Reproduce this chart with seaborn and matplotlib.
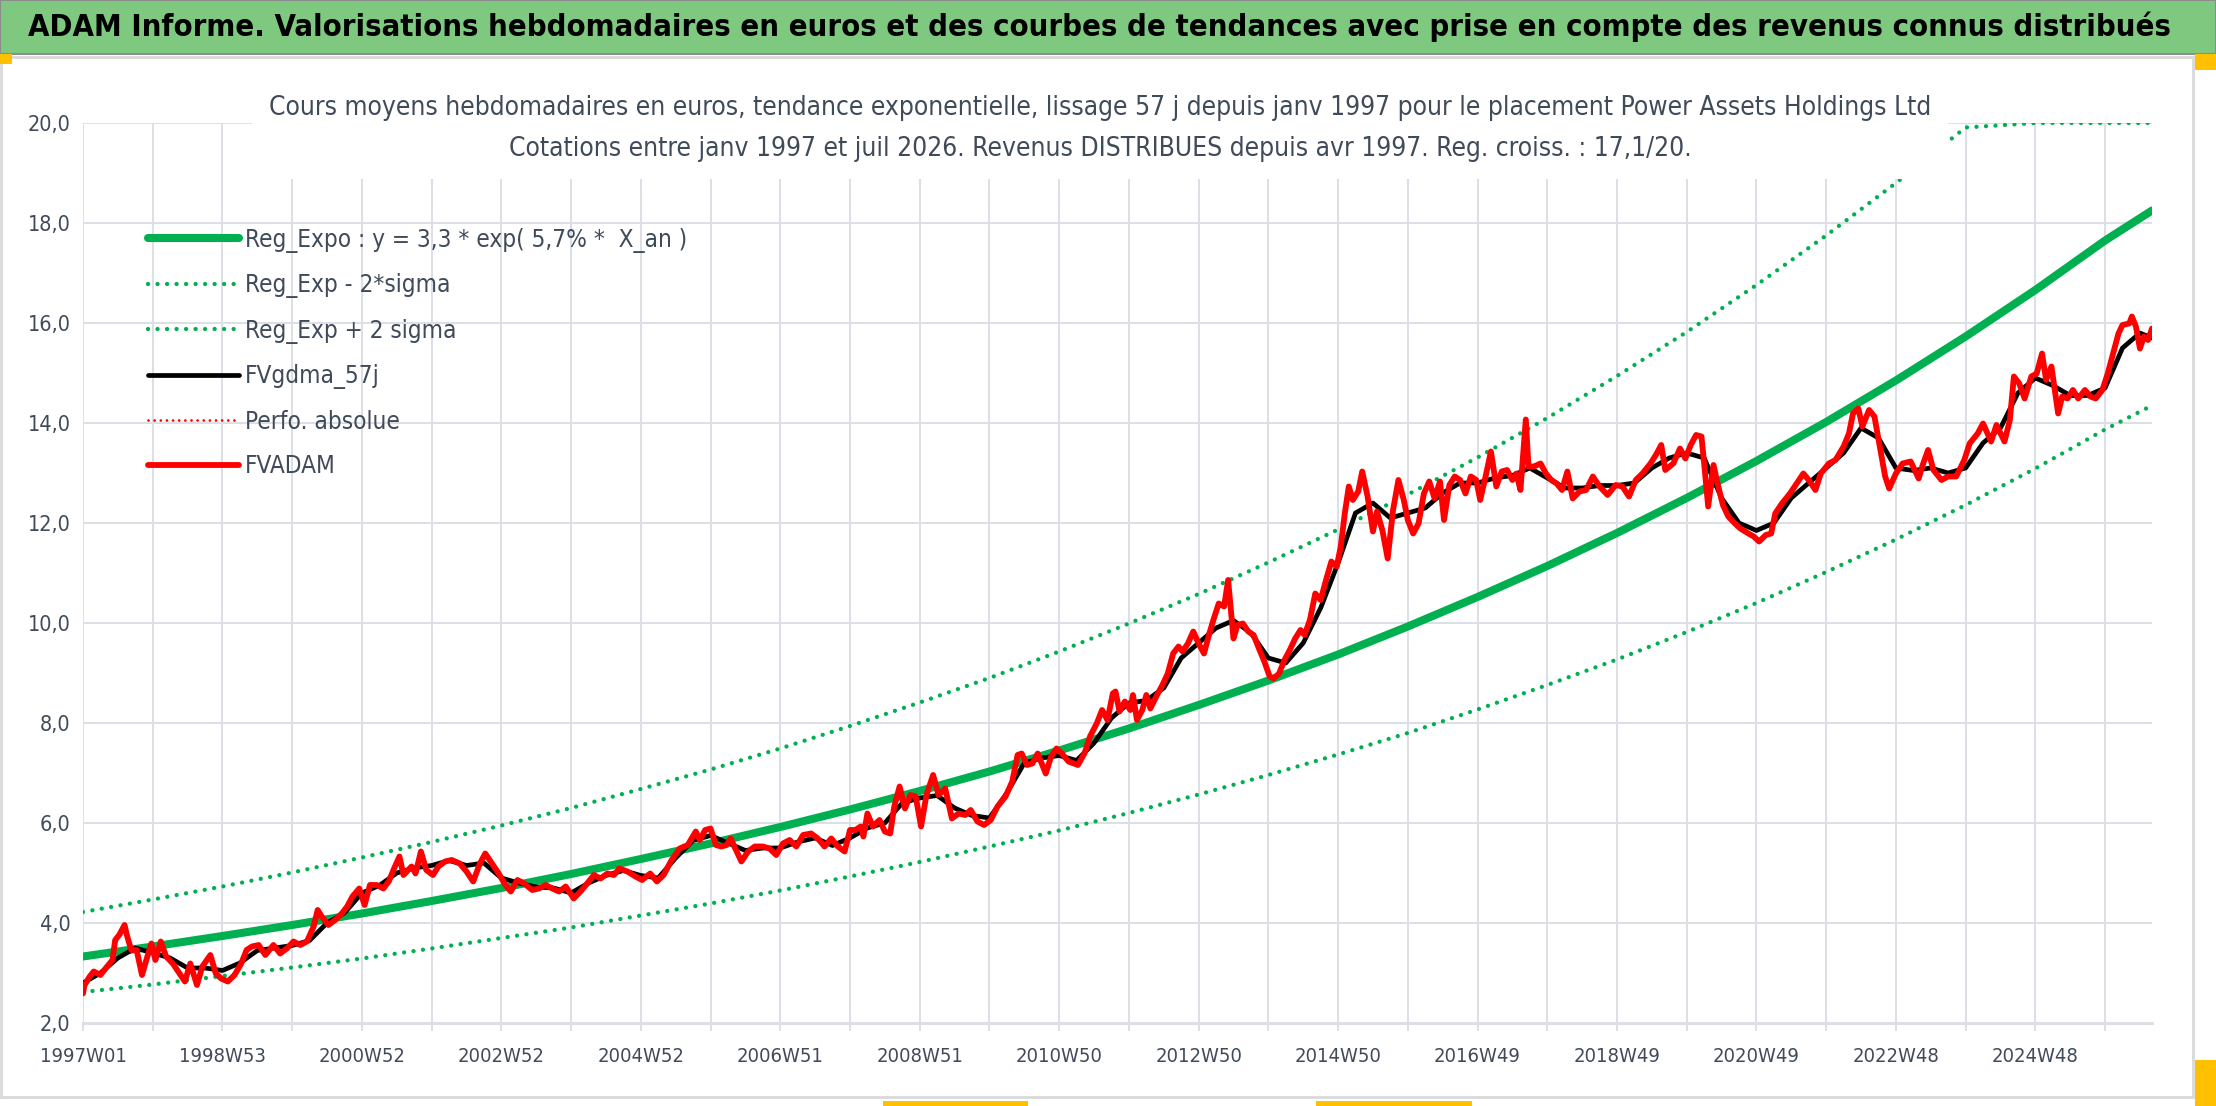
import matplotlib
matplotlib.use("Agg")
import matplotlib.pyplot as plt
import seaborn as sns
from matplotlib.patches import Rectangle

# ---- data ----
# x = week index since 1997W01 (category axis, one category per week)
tick_weeks = [0, 104, 208, 312, 416, 520, 624, 728, 832, 936, 1040, 1144, 1248, 1352, 1456]
tick_labels = ["1997W01", "1998W53", "2000W52", "2002W52", "2004W52", "2006W51", "2008W51",
               "2010W50", "2012W50", "2014W50", "2016W49", "2018W49", "2020W49", "2022W48", "2024W48"]
y_ticks = [2, 4, 6, 8, 10, 12, 14, 16, 18, 20]

# regression curves, one point per year (52 weeks) + last week
band_weeks = [0, 52, 104, 156, 208, 260, 312, 364, 416, 468, 520, 572, 624, 676, 728, 780,
              832, 884, 936, 988, 1040, 1092, 1144, 1196, 1248, 1300, 1352, 1404, 1456, 1508, 1543]
trend_vals = [3.33, 3.53, 3.74, 3.96, 4.19, 4.44, 4.70, 4.98, 5.28, 5.59, 5.92, 6.27, 6.64, 7.03,
              7.45, 7.89, 8.36, 8.85, 9.37, 9.93, 10.52, 11.14, 11.80, 12.50, 13.24, 14.02,
              14.85, 15.73, 16.66, 17.65, 18.25]
lower_vals = [2.62, 2.77, 2.94, 3.11, 3.29, 3.49, 3.70, 3.91, 4.15, 4.39, 4.65, 4.93, 5.22, 5.53,
              5.85, 6.20, 6.57, 6.96, 7.37, 7.80, 8.27, 8.76, 9.27, 9.82, 10.40, 11.02, 11.67,
              12.36, 13.09, 13.87, 14.35]
upper_vals = [4.22, 4.47, 4.73, 5.01, 5.31, 5.62, 5.95, 6.30, 6.68, 7.07, 7.49, 7.94, 8.41, 8.90,
              9.43, 9.99, 10.58, 11.21, 11.87, 12.57, 13.31, 14.10, 14.94, 15.82, 16.76, 17.75,
              18.80, 19.91, 20.0, 20.0, 20.0]

# FVADAM (weekly price incl. distributed income)
adam_weeks = [0, 1, 5, 8, 13, 18, 22, 24, 27, 31, 33, 36, 40, 44, 48, 51, 54, 58, 62, 67, 72, 76,
              80, 85, 89, 95, 99, 103, 108, 113, 118, 122, 126, 131, 136, 142, 147, 152, 157, 162,
              167, 172, 175, 178, 183, 188, 193, 197, 201, 206, 210, 214, 219, 224, 228, 232, 236,
              239, 245, 248, 252, 256, 261, 265, 270, 275, 281, 286, 291, 296, 300, 305, 310, 315,
              319, 324, 329, 335, 340, 345, 350, 355, 360, 366, 371, 376, 381, 386, 391, 396, 400,
              406, 412, 417, 423, 428, 433, 439, 445, 451, 457, 460, 464, 468, 472, 476, 480, 483,
              487, 491, 496, 501, 507, 512, 517, 522, 527, 532, 537, 543, 548, 553, 558, 563, 568,
              572, 576, 580, 582, 585, 589, 594, 598, 602, 605, 609, 613, 617, 621, 625, 629, 634,
              638, 643, 648, 653, 658, 662, 667, 672, 677, 682, 688, 693, 697, 700, 704, 708, 712,
              718, 722, 726, 730, 735, 742, 747, 751, 756, 760, 764, 768, 770, 773, 777, 781, 783,
              786, 790, 793, 796, 801, 805, 809, 813, 817, 820, 824, 828, 832, 836, 840, 843, 847,
              851, 854, 858, 861, 865, 869, 873, 877, 881, 885, 888, 892, 896, 900, 904, 908, 911,
              915, 919, 923, 927, 931, 935, 938, 941, 944, 947, 951, 954, 958, 962, 965, 969, 973,
              977, 981, 985, 988, 992, 996, 1000, 1004, 1008, 1012, 1015, 1019, 1023, 1027, 1031,
              1035, 1039, 1042, 1046, 1050, 1054, 1058, 1062, 1066, 1069, 1072, 1076, 1078, 1082,
              1087, 1091, 1095, 1099, 1103, 1107, 1111, 1116, 1121, 1126, 1131, 1137, 1143, 1148,
              1153, 1158, 1163, 1169, 1173, 1177, 1180, 1186, 1191, 1195, 1199, 1203, 1207, 1209,
              1212, 1216, 1219, 1223, 1227, 1232, 1236, 1242, 1246, 1250, 1255, 1259, 1262, 1267,
              1273, 1278, 1283, 1287, 1292, 1296, 1302, 1307, 1313, 1317, 1320, 1324, 1327, 1332,
              1336, 1340, 1344, 1347, 1352, 1357, 1363, 1369, 1372, 1376, 1380, 1386, 1391, 1397,
              1403, 1407, 1413, 1417, 1423, 1427, 1433, 1437, 1440, 1444, 1448, 1453, 1457, 1461,
              1464, 1468, 1473, 1476, 1480, 1484, 1488, 1493, 1497, 1501, 1506, 1510, 1514, 1518,
              1521, 1526, 1528, 1531, 1534, 1537, 1540, 1543]
adam_vals = [2.59, 2.75, 2.93, 3.03, 2.96, 3.13, 3.26, 3.66, 3.76, 3.96, 3.73, 3.46, 3.46, 2.96,
             3.33, 3.59, 3.26, 3.63, 3.33, 3.19, 2.99, 2.83, 3.19, 2.76, 3.13, 3.36, 2.99, 2.89,
             2.83, 2.96, 3.19, 3.46, 3.53, 3.56, 3.36, 3.56, 3.39, 3.49, 3.63, 3.56, 3.63, 3.93,
             4.26, 4.13, 3.96, 4.06, 4.19, 4.33, 4.53, 4.69, 4.36, 4.76, 4.76, 4.69, 4.83, 5.09,
             5.33, 4.96, 5.13, 4.99, 5.43, 5.06, 4.96, 5.13, 5.23, 5.26, 5.19, 5.03, 4.83, 5.19,
             5.39, 5.19, 4.99, 4.76, 4.63, 4.86, 4.79, 4.66, 4.69, 4.76, 4.69, 4.63, 4.73, 4.49,
             4.63, 4.79, 4.96, 4.89, 4.99, 4.96, 5.09, 5.03, 4.93, 4.86, 4.99, 4.83, 4.96, 5.26,
             5.49, 5.56, 5.83, 5.66, 5.86, 5.89, 5.56, 5.53, 5.56, 5.69, 5.46, 5.23, 5.43, 5.53,
             5.53, 5.49, 5.36, 5.59, 5.66, 5.53, 5.76, 5.79, 5.69, 5.53, 5.69, 5.53, 5.43, 5.86,
             5.86, 5.93, 5.73, 6.19, 5.93, 6.06, 5.83, 5.79, 6.33, 6.73, 6.29, 6.56, 6.53, 5.93,
             6.56, 6.96, 6.56, 6.69, 6.09, 6.19, 6.16, 6.26, 6.03, 5.96, 6.06, 6.33, 6.53, 6.83,
             7.36, 7.39, 7.16, 7.19, 7.39, 6.99, 7.33, 7.49, 7.39, 7.23, 7.16, 7.40, 7.73, 7.99,
             8.26, 8.06, 8.59, 8.63, 8.23, 8.43, 8.26, 8.56, 8.06, 8.26, 8.56, 8.29, 8.56, 8.76,
             8.99, 9.39, 9.53, 9.43, 9.59, 9.83, 9.59, 9.39, 9.79, 10.06, 10.39, 10.33, 10.86,
             9.69, 9.96, 9.99, 9.83, 9.76, 9.49, 9.23, 8.93, 8.89, 8.99, 9.26, 9.46, 9.69, 9.86,
             9.76, 10.06, 10.59, 10.46, 10.86, 11.23, 11.13, 11.53, 12.19, 12.73, 12.46, 12.63,
             13.03, 12.53, 11.83, 12.23, 11.86, 11.29, 12.26, 12.86, 12.46, 12.06, 11.79, 11.99,
             12.59, 12.83, 12.49, 12.83, 12.06, 12.76, 12.93, 12.86, 12.59, 12.93, 12.86, 12.46,
             12.93, 13.43, 12.73, 13.03, 13.06, 12.86, 12.99, 12.66, 14.07, 13.13, 13.13, 13.19,
             12.99, 12.86, 12.79, 12.66, 13.03, 12.49, 12.63, 12.66, 12.93, 12.73, 12.56, 12.76,
             12.73, 12.53, 12.86, 12.99, 13.19, 13.36, 13.56, 13.06, 13.19, 13.49, 13.29, 13.56,
             13.76, 13.73, 13.19, 12.33, 13.16, 12.79, 12.36, 12.13, 11.99, 11.89, 11.79, 11.73,
             11.63, 11.76, 11.79, 12.19, 12.39, 12.59, 12.79, 12.99, 12.86, 12.66, 12.99, 13.19,
             13.26, 13.53, 13.79, 14.19, 14.29, 13.93, 14.26, 14.13, 13.53, 12.93, 12.69, 12.99,
             13.19, 13.23, 12.89, 13.16, 13.46, 13.06, 12.86, 12.93, 12.93, 13.26, 13.59, 13.79,
             13.99, 13.63, 13.96, 13.63, 14.06, 14.93, 14.79, 14.49, 14.93, 14.99, 15.39, 14.86,
             15.13, 14.19, 14.53, 14.49, 14.66, 14.49, 14.66, 14.53, 14.49, 14.66, 14.99, 15.39,
             15.79, 15.96, 15.99, 16.13, 15.93, 15.49, 15.73, 15.66, 15.89]

# FVgdma_57j (smoothed)
gdma_weeks = [0, 13, 26, 39, 52, 65, 78, 91, 104, 117, 130, 143, 156, 169, 182, 195, 208, 221,
              234, 247, 260, 273, 286, 299, 312, 325, 338, 351, 364, 377, 390, 403, 416, 429,
              442, 455, 468, 481, 494, 507, 520, 533, 546, 559, 572, 585, 598, 611, 624, 637,
              650, 663, 676, 689, 702, 715, 728, 741, 754, 767, 780, 793, 806, 819, 832, 845,
              858, 871, 884, 897, 910, 923, 936, 949, 962, 975, 988, 1001, 1014, 1027, 1040,
              1053, 1066, 1079, 1092, 1105, 1118, 1131, 1144, 1157, 1170, 1183, 1196, 1209, 1222,
              1235, 1248, 1261, 1274, 1287, 1300, 1313, 1326, 1339, 1352, 1365, 1378, 1391, 1404,
              1417, 1430, 1443, 1456, 1469, 1482, 1495, 1508, 1521, 1534, 1543]
gdma_vals = [2.80, 3.00, 3.30, 3.50, 3.40, 3.30, 3.10, 3.10, 3.05, 3.20, 3.45, 3.50, 3.55, 3.65,
             4.00, 4.20, 4.60, 4.75, 5.00, 5.10, 5.15, 5.25, 5.15, 5.20, 4.90, 4.80, 4.72, 4.70,
             4.60, 4.80, 4.95, 5.05, 4.95, 4.90, 5.30, 5.65, 5.75, 5.60, 5.45, 5.50, 5.50, 5.62,
             5.70, 5.55, 5.70, 5.90, 6.00, 6.40, 6.50, 6.55, 6.30, 6.15, 6.10, 6.60, 7.20, 7.30,
             7.35, 7.25, 7.60, 8.10, 8.40, 8.45, 8.70, 9.30, 9.60, 9.90, 10.05, 9.80, 9.30, 9.20,
             9.60, 10.30, 11.20, 12.20, 12.40, 12.10, 12.20, 12.30, 12.60, 12.80, 12.80, 12.90,
             12.95, 13.10, 12.90, 12.70, 12.70, 12.75, 12.75, 12.80, 13.10, 13.30, 13.40, 13.30,
             12.50, 12.00, 11.85, 12.00, 12.50, 12.80, 13.10, 13.40, 13.90, 13.70, 13.10, 13.05,
             13.10, 13.00, 13.10, 13.60, 13.90, 14.60, 14.90, 14.75, 14.55, 14.55, 14.70, 15.50,
             15.80, 15.70]

series_labels = ["Reg_Expo : y = 3,3 * exp( 5,7% *  X_an )", "Reg_Exp - 2*sigma",
                 "Reg_Exp + 2 sigma", "FVgdma_57j", "Perfo. absolue", "FVADAM"]

title = ("ADAM Informe. Valorisations hebdomadaires en euros et des courbes de tendances "
         "avec prise en compte des revenus connus distribués")
subtitle = ("Cours moyens hebdomadaires en euros, tendance exponentielle, lissage 57 j depuis "
            "janv 1997 pour le placement Power Assets Holdings Ltd\n"
            "Cotations entre janv 1997 et juil 2026. Revenus DISTRIBUES depuis avr 1997. "
            "Reg. croiss. : 17,1/20.")

# ---- figure ----
W, H = 2216, 1106
GREEN = "#00B050"
GRID = "#DCDFE6"
TXT = "#404B5A"
DOT = (0, (0.01, 2.2))

sns.set_theme(style="white")
plt.rcParams["font.family"] = ["DejaVu Sans"]
plt.rcParams["font.stretch"] = "condensed"

fig = plt.figure(figsize=(W / 100, H / 100), dpi=100)


def fx(px):
    return px / W


def fy(py):
    return 1 - py / H


def fit_width(txt, width_px):
    # shrink/grow a text so that it spans the given pixel width
    fig.canvas.draw()
    w = txt.get_window_extent().width
    txt.set_fontsize(txt.get_fontsize() * width_px / w)


# chart area frame, title band and the little selection handles
fig.patches.append(Rectangle((fx(1), fy(1097)), fx(2192), 1040 / H, transform=fig.transFigure,
                             fc="none", ec="#D9D9D9", lw=2, zorder=-1))
fig.patches.append(Rectangle((0, fy(54)), 1, 54 / H, transform=fig.transFigure,
                             fc="#7EC87F", ec="#8C8C8C", lw=1.5, zorder=1))
for (x0, y0, w, h) in [(0, 54, 12, 10), (2195, 54, 21, 16), (2195, 1060, 21, 46),
                       (883, 1101, 145, 5), (1316, 1101, 156, 5)]:
    fig.patches.append(Rectangle((fx(x0), fy(y0 + h)), w / W, h / H, transform=fig.transFigure,
                                 fc="#FFC000", ec="none", zorder=2))

ax = fig.add_axes([fx(83), fy(1023), fx(2152 - 83), (1023 - 123) / H])
ax.set_facecolor("none")

sns.lineplot(x=band_weeks, y=lower_vals, ax=ax, color=GREEN, lw=3.1, linestyle=DOT,
             dash_capstyle="round", label=series_labels[1], zorder=2)
sns.lineplot(x=band_weeks, y=upper_vals, ax=ax, color=GREEN, lw=3.1, linestyle=DOT,
             dash_capstyle="round", label=series_labels[2], zorder=2)
sns.lineplot(x=band_weeks, y=trend_vals, ax=ax, color=GREEN, lw=5.8,
             label=series_labels[0], zorder=3)
sns.lineplot(x=adam_weeks, y=adam_vals, ax=ax, color="#FF0000", lw=2, linestyle=DOT,
             dash_capstyle="round", label=series_labels[4], zorder=3.5)
sns.lineplot(x=gdma_weeks, y=gdma_vals, ax=ax, color="black", lw=3.4,
             label=series_labels[3], zorder=4)
sns.lineplot(x=adam_weeks, y=adam_vals, ax=ax, color="#FF0000", lw=4.2,
             label=series_labels[5], zorder=5)

ax.set_xlim(0, 1543)
ax.set_ylim(2, 20)
ax.set_xlabel("")
ax.set_ylabel("")

major = list(range(0, 1543, 52))
lab = dict(zip(tick_weeks, tick_labels))
ax.set_xticks(major)
ax.set_xticklabels([lab.get(m, "") for m in major], fontsize=14.5, color=TXT)
ax.set_yticks(y_ticks)
ax.set_yticklabels([f"{v:.1f}".replace(".", ",") for v in y_ticks], fontsize=15.5, color=TXT)
ax.tick_params(axis="x", length=6, width=1.4, color=GRID, pad=11, bottom=True)
ax.tick_params(axis="y", length=0, pad=9)
ax.grid(True, color=GRID, lw=1.4, zorder=0)
ax.set_axisbelow(True)
for s in ["top", "right", "left"]:
    ax.spines[s].set_visible(False)
ax.spines["bottom"].set_color(GRID)
ax.spines["bottom"].set_linewidth(2.2)

handles, labels = ax.get_legend_handles_labels()
order = [labels.index(l) for l in series_labels]
leg = ax.legend([handles[i] for i in order], [labels[i] for i in order],
                loc="upper left", bbox_to_anchor=(fx(148), fy(228)),
                bbox_transform=fig.transFigure, frameon=False, fontsize=17.5,
                handlelength=3.75, handletextpad=0.25, labelspacing=0.84,
                borderpad=0, borderaxespad=0)
for t in leg.get_texts():
    t.set_color(TXT)

t_title = fig.text(0.496, fy(27), title, ha="center", va="center", fontsize=26,
                   fontweight="bold", color="black")
fit_width(t_title, 2140)
t_sub = fig.text(0.4964, fy(95), subtitle, ha="center", va="top", fontsize=22, color=TXT,
                 linespacing=1.75, zorder=10,
                 bbox=dict(fc="white", ec="none", pad=14))
fit_width(t_sub, 1664)

fig.savefig("out.png", dpi=100)
